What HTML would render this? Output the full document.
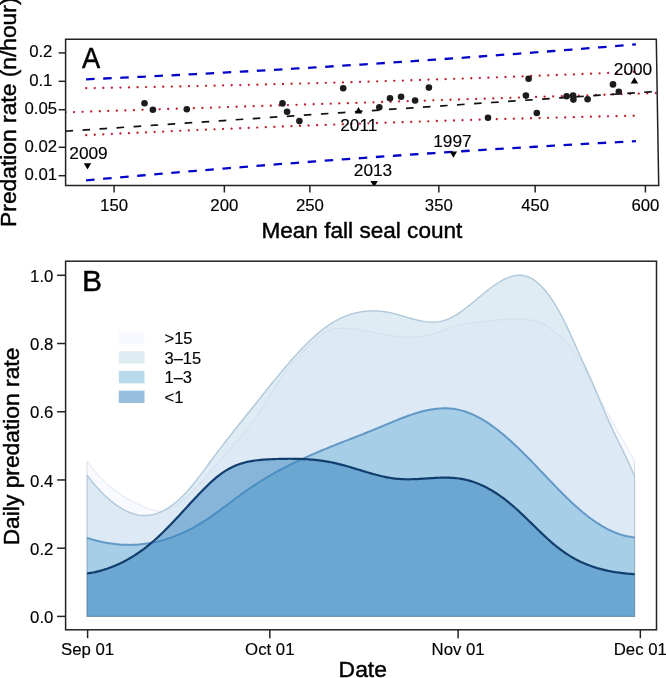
<!DOCTYPE html>
<html><head><meta charset="utf-8"><style>
html,body{margin:0;padding:0;background:#fff;overflow:hidden}
svg{display:block;will-change:transform}
text{font-family:"Liberation Sans", sans-serif;fill:#000;stroke:#000;stroke-width:0.15px} .t{stroke-width:0.45px}
</style></head><body>
<svg width="666" height="678" viewBox="0 0 666 678">
<defs><clipPath id="cpA"><path d="M65.6,39.3 L656.3,39.3 L658.7,185.6 L65.6,185.6 Z"/></clipPath><clipPath id="cpB"><rect x="65.6" y="261.2" width="590.9" height="368.6"/></clipPath></defs>
<g clip-path="url(#cpA)">
<path d="M86.10,79.36 L95.26,78.94 L104.43,78.52 L113.59,78.10 L122.75,77.67 L131.92,77.23 L141.08,76.79 L150.24,76.35 L159.41,75.90 L168.57,75.44 L177.73,74.98 L186.90,74.51 L196.06,74.04 L205.22,73.56 L214.39,73.08 L223.55,72.59 L232.71,72.10 L241.88,71.60 L251.04,71.09 L260.20,70.58 L269.37,70.06 L278.53,69.54 L287.69,69.01 L296.86,68.47 L306.02,67.93 L315.18,67.38 L324.35,66.83 L333.51,66.27 L342.67,65.70 L351.84,65.13 L361.00,64.55 L370.16,63.97 L379.33,63.38 L388.49,62.78 L397.65,62.18 L406.82,61.57 L415.98,60.96 L425.14,60.34 L434.31,59.71 L443.47,59.08 L452.63,58.44 L461.80,57.79 L470.96,57.14 L480.12,56.48 L489.29,55.82 L498.45,55.15 L507.61,54.47 L516.78,53.79 L525.94,53.10 L535.10,52.41 L544.27,51.71 L553.43,51.00 L562.59,50.29 L571.76,49.57 L580.92,48.84 L590.08,48.11 L599.25,47.38 L608.41,46.64 L617.57,45.89 L626.74,45.14 L635.90,44.38" fill="none" stroke="#0505c8" stroke-width="2.3" stroke-dasharray="8.5 8.6"/>
<path d="M86.10,180.33 L95.26,179.50 L104.43,178.69 L113.59,177.88 L122.75,177.07 L131.92,176.27 L141.08,175.48 L150.24,174.69 L159.41,173.90 L168.57,173.12 L177.73,172.35 L186.90,171.58 L196.06,170.82 L205.22,170.06 L214.39,169.31 L223.55,168.56 L232.71,167.82 L241.88,167.09 L251.04,166.36 L260.20,165.63 L269.37,164.92 L278.53,164.21 L287.69,163.50 L296.86,162.80 L306.02,162.11 L315.18,161.42 L324.35,160.74 L333.51,160.06 L342.67,159.39 L351.84,158.73 L361.00,158.07 L370.16,157.42 L379.33,156.77 L388.49,156.14 L397.65,155.50 L406.82,154.88 L415.98,154.26 L425.14,153.64 L434.31,153.03 L443.47,152.43 L452.63,151.84 L461.80,151.25 L470.96,150.66 L480.12,150.09 L489.29,149.51 L498.45,148.95 L507.61,148.39 L516.78,147.84 L525.94,147.29 L535.10,146.75 L544.27,146.22 L553.43,145.69 L562.59,145.16 L571.76,144.65 L580.92,144.14 L590.08,143.63 L599.25,143.13 L608.41,142.64 L617.57,142.15 L626.74,141.66 L635.90,141.19" fill="none" stroke="#0505c8" stroke-width="2.3" stroke-dasharray="8.5 8.6"/>
<path d="M86.20,88.21 L95.36,88.05 L104.51,87.89 L113.66,87.72 L122.82,87.55 L131.97,87.37 L141.13,87.19 L150.28,87.01 L159.44,86.83 L168.59,86.64 L177.75,86.45 L186.90,86.26 L196.06,86.06 L205.22,85.85 L214.37,85.65 L223.52,85.44 L232.68,85.23 L241.83,85.01 L250.99,84.79 L260.14,84.56 L269.30,84.34 L278.45,84.10 L287.61,83.87 L296.76,83.63 L305.92,83.38 L315.07,83.13 L324.23,82.88 L333.38,82.62 L342.54,82.36 L351.69,82.09 L360.85,81.82 L370.00,81.55 L379.16,81.27 L388.31,80.99 L397.47,80.70 L406.62,80.41 L415.78,80.12 L424.93,79.82 L434.09,79.51 L443.24,79.20 L452.40,78.89 L461.55,78.57 L470.71,78.25 L479.86,77.93 L489.02,77.60 L498.17,77.26 L507.33,76.92 L516.49,76.58 L525.64,76.23 L534.79,75.88 L543.95,75.53 L553.11,75.17 L562.26,74.80 L571.41,74.44 L580.57,74.07 L589.72,73.69 L598.88,73.31 L608.03,72.93 L617.19,72.54 L626.35,72.15 L635.50,71.76" fill="none" stroke="#bf1e2e" stroke-width="2.3" stroke-linecap="round" stroke-dasharray="0.01 8.55"/>
<path d="M86.20,135.14 L95.36,134.70 L104.51,134.27 L113.66,133.84 L122.82,133.41 L131.97,132.99 L141.13,132.57 L150.28,132.15 L159.44,131.74 L168.59,131.33 L177.75,130.92 L186.90,130.51 L196.06,130.11 L205.22,129.72 L214.37,129.33 L223.52,128.94 L232.68,128.55 L241.83,128.17 L250.99,127.79 L260.14,127.42 L269.30,127.05 L278.45,126.68 L287.61,126.32 L296.76,125.96 L305.92,125.61 L315.07,125.26 L324.23,124.91 L333.38,124.57 L342.54,124.24 L351.69,123.90 L360.85,123.58 L370.00,123.25 L379.16,122.93 L388.31,122.62 L397.47,122.30 L406.62,122.00 L415.78,121.69 L424.93,121.40 L434.09,121.10 L443.24,120.81 L452.40,120.53 L461.55,120.25 L470.71,119.97 L479.86,119.70 L489.02,119.43 L498.17,119.16 L507.33,118.90 L516.49,118.65 L525.64,118.40 L534.79,118.15 L543.95,117.91 L553.11,117.67 L562.26,117.43 L571.41,117.20 L580.57,116.97 L589.72,116.75 L598.88,116.53 L608.03,116.32 L617.19,116.10 L626.35,115.90 L635.50,115.69" fill="none" stroke="#bf1e2e" stroke-width="2.3" stroke-linecap="round" stroke-dasharray="0.01 8.55"/>
<path d="M65.50,112.35 L75.41,112.03 L85.32,111.70 L95.22,111.38 L105.13,111.06 L115.04,110.73 L124.95,110.41 L134.86,110.09 L144.77,109.76 L154.68,109.44 L164.58,109.11 L174.49,108.79 L184.40,108.47 L194.31,108.14 L204.22,107.82 L214.12,107.50 L224.03,107.17 L233.94,106.85 L243.85,106.52 L253.76,106.20 L263.67,105.88 L273.57,105.55 L283.48,105.23 L293.39,104.90 L303.30,104.58 L313.21,104.26 L323.12,103.93 L333.02,103.61 L342.93,103.29 L352.84,102.96 L362.75,102.64 L372.66,102.31 L382.57,101.99 L392.48,101.67 L402.38,101.34 L412.29,101.02 L422.20,100.70 L432.11,100.37 L442.02,100.05 L451.93,99.72 L461.83,99.40 L471.74,99.08 L481.65,98.75 L491.56,98.43 L501.47,98.10 L511.38,97.78 L521.28,97.46 L531.19,97.13 L541.10,96.81 L551.01,96.49 L560.92,96.16 L570.83,95.84 L580.73,95.51 L590.64,95.19 L600.55,94.87 L610.46,94.54 L620.37,94.22 L630.27,93.90 L640.18,93.57 L650.09,93.25 L660.00,92.92" fill="none" stroke="#bf1e2e" stroke-width="2.3" stroke-linecap="round" stroke-dasharray="0.01 8.55"/>
<path d="M65.50,131.23 L75.41,130.56 L85.32,129.89 L95.22,129.23 L105.13,128.56 L115.04,127.89 L124.95,127.22 L134.86,126.55 L144.77,125.89 L154.68,125.22 L164.58,124.55 L174.49,123.88 L184.40,123.22 L194.31,122.55 L204.22,121.88 L214.12,121.21 L224.03,120.54 L233.94,119.88 L243.85,119.21 L253.76,118.54 L263.67,117.87 L273.57,117.20 L283.48,116.54 L293.39,115.87 L303.30,115.20 L313.21,114.53 L323.12,113.87 L333.02,113.20 L342.93,112.53 L352.84,111.86 L362.75,111.19 L372.66,110.53 L382.57,109.86 L392.48,109.19 L402.38,108.52 L412.29,107.86 L422.20,107.19 L432.11,106.52 L442.02,105.85 L451.93,105.18 L461.83,104.52 L471.74,103.85 L481.65,103.18 L491.56,102.51 L501.47,101.85 L511.38,101.18 L521.28,100.51 L531.19,99.84 L541.10,99.17 L551.01,98.51 L560.92,97.84 L570.83,97.17 L580.73,96.50 L590.64,95.83 L600.55,95.17 L610.46,94.50 L620.37,93.83 L630.27,93.16 L640.18,92.50 L650.09,91.83 L660.00,91.16" fill="none" stroke="#111" stroke-width="1.7" stroke-dasharray="7.6 9.46"/>
<circle cx="144.5" cy="103.3" r="3.3" fill="#1c1c1c"/>
<circle cx="152.9" cy="109.8" r="3.3" fill="#1c1c1c"/>
<circle cx="186.8" cy="109.2" r="3.3" fill="#1c1c1c"/>
<circle cx="282.5" cy="103.4" r="3.3" fill="#1c1c1c"/>
<circle cx="287.1" cy="111.8" r="3.3" fill="#1c1c1c"/>
<circle cx="299.4" cy="121.1" r="3.3" fill="#1c1c1c"/>
<circle cx="343.2" cy="88.3" r="3.3" fill="#1c1c1c"/>
<circle cx="379.3" cy="107.2" r="3.3" fill="#1c1c1c"/>
<circle cx="390" cy="98.2" r="3.3" fill="#1c1c1c"/>
<circle cx="401.1" cy="96.7" r="3.3" fill="#1c1c1c"/>
<circle cx="415.1" cy="100.5" r="3.3" fill="#1c1c1c"/>
<circle cx="428.9" cy="87.6" r="3.3" fill="#1c1c1c"/>
<circle cx="488" cy="117.8" r="3.3" fill="#1c1c1c"/>
<circle cx="528.6" cy="78.8" r="3.3" fill="#1c1c1c"/>
<circle cx="525.9" cy="95.6" r="3.3" fill="#1c1c1c"/>
<circle cx="536.8" cy="113" r="3.3" fill="#1c1c1c"/>
<circle cx="566.6" cy="96.2" r="3.3" fill="#1c1c1c"/>
<circle cx="573.1" cy="95.5" r="3.3" fill="#1c1c1c"/>
<circle cx="573.4" cy="99.6" r="3.3" fill="#1c1c1c"/>
<circle cx="587.6" cy="99.3" r="3.3" fill="#1c1c1c"/>
<circle cx="613" cy="84.4" r="3.3" fill="#1c1c1c"/>
<circle cx="618.8" cy="91.8" r="3.3" fill="#1c1c1c"/>
<path d="M83.80,163.30 L91.20,163.30 L87.50,169.60 Z" fill="#000"/>
<path d="M449.70,151.50 L457.10,151.50 L453.40,157.80 Z" fill="#000"/>
<path d="M370.40,181.00 L377.80,181.00 L374.10,187.30 Z" fill="#000"/>
<path d="M358.50,107.10 L362.20,113.40 L354.80,113.40 Z" fill="#000"/>
<path d="M634.40,77.30 L638.10,83.60 L630.70,83.60 Z" fill="#000"/>
</g>
<text x="88.5" y="159.0" font-size="17.3" text-anchor="middle">2009</text>
<text x="452.4" y="147.4" font-size="17.3" text-anchor="middle">1997</text>
<text x="373.0" y="176.4" font-size="17.3" text-anchor="middle">2013</text>
<text x="358.8" y="130.5" font-size="17.3" text-anchor="middle">2011</text>
<text x="633.0" y="75.0" font-size="17.3" text-anchor="middle">2000</text>
<path d="M65.6,39.3 L656.3,39.3 L658.7,185.6 L65.6,185.6 Z" fill="none" stroke="#222" stroke-width="1.5"/>
<line x1="58.6" y1="52.90" x2="65.6" y2="52.90" stroke="#222" stroke-width="1.5"/>
<text x="40.8" y="57.20" font-size="16.8" text-anchor="middle">0.2</text>
<line x1="58.6" y1="81.31" x2="65.6" y2="81.31" stroke="#222" stroke-width="1.5"/>
<text x="40.8" y="85.61" font-size="16.8" text-anchor="middle">0.1</text>
<line x1="58.6" y1="109.72" x2="65.6" y2="109.72" stroke="#222" stroke-width="1.5"/>
<text x="40.8" y="114.02" font-size="16.8" text-anchor="middle">0.05</text>
<line x1="58.6" y1="147.29" x2="65.6" y2="147.29" stroke="#222" stroke-width="1.5"/>
<text x="40.8" y="151.59" font-size="16.8" text-anchor="middle">0.02</text>
<line x1="58.6" y1="175.70" x2="65.6" y2="175.70" stroke="#222" stroke-width="1.5"/>
<text x="40.8" y="180.00" font-size="16.8" text-anchor="middle">0.01</text>
<line x1="114.10" y1="185.6" x2="114.10" y2="192.5" stroke="#222" stroke-width="1.5"/>
<text x="114.10" y="211.2" font-size="16.8" text-anchor="middle">150</text>
<line x1="224.36" y1="185.6" x2="224.36" y2="192.5" stroke="#222" stroke-width="1.5"/>
<text x="224.36" y="211.2" font-size="16.8" text-anchor="middle">200</text>
<line x1="309.88" y1="185.6" x2="309.88" y2="192.5" stroke="#222" stroke-width="1.5"/>
<text x="309.88" y="211.2" font-size="16.8" text-anchor="middle">250</text>
<line x1="438.84" y1="185.6" x2="438.84" y2="192.5" stroke="#222" stroke-width="1.5"/>
<text x="438.84" y="211.2" font-size="16.8" text-anchor="middle">350</text>
<line x1="535.16" y1="185.6" x2="535.16" y2="192.5" stroke="#222" stroke-width="1.5"/>
<text x="535.16" y="211.2" font-size="16.8" text-anchor="middle">450</text>
<line x1="645.42" y1="185.6" x2="645.42" y2="192.5" stroke="#222" stroke-width="1.5"/>
<text x="645.42" y="211.2" font-size="16.8" text-anchor="middle">600</text>
<text class="t" x="361.9" y="238.1" font-size="22.6" text-anchor="middle">Mean fall seal count</text>
<text class="t" transform="translate(16.3,112.2) rotate(-90)" x="0" y="0" font-size="22.8" text-anchor="middle">Predation rate (n/hour)</text>
<text class="t" transform="translate(91.2,67.5) scale(0.91,1)" x="0" y="0" font-size="30" text-anchor="middle">A</text>
<g clip-path="url(#cpB)">
<path d="M87.00,461.24 L89.00,463.98 L91.00,466.61 L93.00,469.12 L95.00,471.54 L97.00,473.84 L99.00,476.05 L101.00,478.16 L103.00,480.18 L105.00,482.11 L107.00,483.96 L109.00,485.72 L111.00,487.40 L113.00,489.01 L115.00,490.54 L117.00,492.01 L119.00,493.41 L121.00,494.75 L123.00,496.03 L125.00,497.25 L127.00,498.42 L129.00,499.55 L131.00,500.63 L133.00,501.67 L135.00,502.66 L137.00,503.63 L139.00,504.56 L141.00,505.47 L143.00,506.35 L145.00,507.21 L147.00,508.04 L149.00,508.83 L151.00,509.54 L153.00,510.15 L155.00,510.62 L157.00,510.93 L159.00,511.04 L161.00,510.95 L163.00,510.68 L165.00,510.22 L167.00,509.60 L169.00,508.82 L171.00,507.90 L173.00,506.85 L175.00,505.68 L177.00,504.40 L179.00,503.01 L181.00,501.53 L183.00,499.96 L185.00,498.30 L187.00,496.56 L189.00,494.74 L191.00,492.85 L193.00,490.90 L195.00,488.88 L197.00,486.80 L199.00,484.67 L201.00,482.49 L203.00,480.28 L205.00,478.02 L207.00,475.74 L209.00,473.42 L211.00,471.09 L213.00,468.74 L215.00,466.38 L217.00,464.01 L219.00,461.64 L221.00,459.27 L223.00,456.91 L225.00,454.57 L227.00,452.24 L229.00,449.94 L231.00,447.66 L233.00,445.41 L235.00,443.18 L237.00,440.95 L239.00,438.70 L241.00,436.44 L243.00,434.14 L245.00,431.80 L247.00,429.40 L249.00,426.93 L251.00,424.39 L253.00,421.75 L255.00,419.01 L257.00,416.15 L259.00,413.18 L261.00,410.09 L263.00,406.93 L265.00,403.70 L267.00,400.43 L269.00,397.15 L271.00,393.86 L273.00,390.60 L275.00,387.38 L277.00,384.23 L279.00,381.17 L281.00,378.20 L283.00,375.33 L285.00,372.55 L287.00,369.87 L289.00,367.28 L291.00,364.78 L293.00,362.36 L295.00,360.03 L297.00,357.79 L299.00,355.63 L301.00,353.54 L303.00,351.51 L305.00,349.51 L307.00,347.52 L309.00,345.54 L311.00,343.56 L313.00,341.61 L315.00,339.71 L317.00,337.90 L319.00,336.19 L321.00,334.63 L323.00,333.23 L325.00,332.02 L327.00,331.03 L329.00,330.25 L331.00,329.65 L333.00,329.18 L335.00,328.82 L337.00,328.54 L339.00,328.33 L341.00,328.20 L343.00,328.13 L345.00,328.13 L347.00,328.18 L349.00,328.29 L351.00,328.45 L353.00,328.65 L355.00,328.89 L357.00,329.17 L359.00,329.48 L361.00,329.82 L363.00,330.19 L365.00,330.57 L367.00,330.97 L369.00,331.38 L371.00,331.80 L373.00,332.22 L375.00,332.63 L377.00,333.04 L379.00,333.44 L381.00,333.83 L383.00,334.21 L385.00,334.58 L387.00,334.93 L389.00,335.26 L391.00,335.56 L393.00,335.85 L395.00,336.11 L397.00,336.35 L399.00,336.56 L401.00,336.73 L403.00,336.88 L405.00,336.99 L407.00,337.06 L409.00,337.10 L411.00,337.10 L413.00,337.05 L415.00,336.96 L417.00,336.82 L419.00,336.64 L421.00,336.40 L423.00,336.12 L425.00,335.77 L427.00,335.38 L429.00,334.92 L431.00,334.41 L433.00,333.83 L435.00,333.21 L437.00,332.55 L439.00,331.86 L441.00,331.15 L443.00,330.42 L445.00,329.69 L447.00,328.96 L449.00,328.24 L451.00,327.54 L453.00,326.87 L455.00,326.24 L457.00,325.66 L459.00,325.13 L461.00,324.66 L463.00,324.26 L465.00,323.91 L467.00,323.60 L469.00,323.32 L471.00,323.07 L473.00,322.84 L475.00,322.61 L477.00,322.37 L479.00,322.13 L481.00,321.89 L483.00,321.65 L485.00,321.42 L487.00,321.18 L489.00,320.95 L491.00,320.72 L493.00,320.51 L495.00,320.30 L497.00,320.10 L499.00,319.91 L501.00,319.74 L503.00,319.59 L505.00,319.45 L507.00,319.33 L509.00,319.23 L511.00,319.15 L513.00,319.10 L515.00,319.07 L517.00,319.06 L519.00,319.09 L521.00,319.15 L523.00,319.23 L525.00,319.35 L527.00,319.51 L529.00,319.71 L531.00,319.98 L533.00,320.32 L535.00,320.75 L537.00,321.29 L539.00,321.94 L541.00,322.72 L543.00,323.64 L545.00,324.72 L547.00,325.96 L549.00,327.33 L551.00,328.80 L553.00,330.36 L555.00,331.99 L557.00,333.67 L559.00,335.43 L561.00,337.27 L563.00,339.20 L565.00,341.25 L567.00,343.41 L569.00,345.70 L571.00,348.13 L573.00,350.71 L575.00,353.45 L577.00,356.37 L579.00,359.47 L581.00,362.77 L583.00,366.24 L585.00,369.87 L587.00,373.62 L589.00,377.48 L591.00,381.40 L593.00,385.38 L595.00,389.37 L597.00,393.36 L599.00,397.31 L601.00,401.21 L603.00,405.02 L605.00,408.74 L607.00,412.38 L609.00,415.95 L611.00,419.47 L613.00,422.95 L615.00,426.41 L617.00,429.85 L619.00,433.28 L621.00,436.73 L623.00,440.21 L625.00,443.73 L627.00,447.31 L629.00,450.96 L631.00,454.71 L633.00,458.57 L634.60,461.75 L634.6,616.4 L87.0,616.4 Z" fill="rgba(239,243,255,0.38)" stroke="none"/>
<path d="M87.0,461.24 L87.0,616.4 L634.6,616.4 L634.6,461.75" fill="none" stroke="rgba(70,90,110,0.18)" stroke-width="1.1"/>
<path d="M87.00,461.24 L89.00,463.98 L91.00,466.61 L93.00,469.12 L95.00,471.54 L97.00,473.84 L99.00,476.05 L101.00,478.16 L103.00,480.18 L105.00,482.11 L107.00,483.96 L109.00,485.72 L111.00,487.40 L113.00,489.01 L115.00,490.54 L117.00,492.01 L119.00,493.41 L121.00,494.75 L123.00,496.03 L125.00,497.25 L127.00,498.42 L129.00,499.55 L131.00,500.63 L133.00,501.67 L135.00,502.66 L137.00,503.63 L139.00,504.56 L141.00,505.47 L143.00,506.35 L145.00,507.21 L147.00,508.04 L149.00,508.83 L151.00,509.54 L153.00,510.15 L155.00,510.62 L157.00,510.93 L159.00,511.04 L161.00,510.95 L163.00,510.68 L165.00,510.22 L167.00,509.60 L169.00,508.82 L171.00,507.90 L173.00,506.85 L175.00,505.68 L177.00,504.40 L179.00,503.01 L181.00,501.53 L183.00,499.96 L185.00,498.30 L187.00,496.56 L189.00,494.74 L191.00,492.85 L193.00,490.90 L195.00,488.88 L197.00,486.80 L199.00,484.67 L201.00,482.49 L203.00,480.28 L205.00,478.02 L207.00,475.74 L209.00,473.42 L211.00,471.09 L213.00,468.74 L215.00,466.38 L217.00,464.01 L219.00,461.64 L221.00,459.27 L223.00,456.91 L225.00,454.57 L227.00,452.24 L229.00,449.94 L231.00,447.66 L233.00,445.41 L235.00,443.18 L237.00,440.95 L239.00,438.70 L241.00,436.44 L243.00,434.14 L245.00,431.80 L247.00,429.40 L249.00,426.93 L251.00,424.39 L253.00,421.75 L255.00,419.01 L257.00,416.15 L259.00,413.18 L261.00,410.09 L263.00,406.93 L265.00,403.70 L267.00,400.43 L269.00,397.15 L271.00,393.86 L273.00,390.60 L275.00,387.38 L277.00,384.23 L279.00,381.17 L281.00,378.20 L283.00,375.33 L285.00,372.55 L287.00,369.87 L289.00,367.28 L291.00,364.78 L293.00,362.36 L295.00,360.03 L297.00,357.79 L299.00,355.63 L301.00,353.54 L303.00,351.51 L305.00,349.51 L307.00,347.52 L309.00,345.54 L311.00,343.56 L313.00,341.61 L315.00,339.71 L317.00,337.90 L319.00,336.19 L321.00,334.63 L323.00,333.23 L325.00,332.02 L327.00,331.03 L329.00,330.25 L331.00,329.65 L333.00,329.18 L335.00,328.82 L337.00,328.54 L339.00,328.33 L341.00,328.20 L343.00,328.13 L345.00,328.13 L347.00,328.18 L349.00,328.29 L351.00,328.45 L353.00,328.65 L355.00,328.89 L357.00,329.17 L359.00,329.48 L361.00,329.82 L363.00,330.19 L365.00,330.57 L367.00,330.97 L369.00,331.38 L371.00,331.80 L373.00,332.22 L375.00,332.63 L377.00,333.04 L379.00,333.44 L381.00,333.83 L383.00,334.21 L385.00,334.58 L387.00,334.93 L389.00,335.26 L391.00,335.56 L393.00,335.85 L395.00,336.11 L397.00,336.35 L399.00,336.56 L401.00,336.73 L403.00,336.88 L405.00,336.99 L407.00,337.06 L409.00,337.10 L411.00,337.10 L413.00,337.05 L415.00,336.96 L417.00,336.82 L419.00,336.64 L421.00,336.40 L423.00,336.12 L425.00,335.77 L427.00,335.38 L429.00,334.92 L431.00,334.41 L433.00,333.83 L435.00,333.21 L437.00,332.55 L439.00,331.86 L441.00,331.15 L443.00,330.42 L445.00,329.69 L447.00,328.96 L449.00,328.24 L451.00,327.54 L453.00,326.87 L455.00,326.24 L457.00,325.66 L459.00,325.13 L461.00,324.66 L463.00,324.26 L465.00,323.91 L467.00,323.60 L469.00,323.32 L471.00,323.07 L473.00,322.84 L475.00,322.61 L477.00,322.37 L479.00,322.13 L481.00,321.89 L483.00,321.65 L485.00,321.42 L487.00,321.18 L489.00,320.95 L491.00,320.72 L493.00,320.51 L495.00,320.30 L497.00,320.10 L499.00,319.91 L501.00,319.74 L503.00,319.59 L505.00,319.45 L507.00,319.33 L509.00,319.23 L511.00,319.15 L513.00,319.10 L515.00,319.07 L517.00,319.06 L519.00,319.09 L521.00,319.15 L523.00,319.23 L525.00,319.35 L527.00,319.51 L529.00,319.71 L531.00,319.98 L533.00,320.32 L535.00,320.75 L537.00,321.29 L539.00,321.94 L541.00,322.72 L543.00,323.64 L545.00,324.72 L547.00,325.96 L549.00,327.33 L551.00,328.80 L553.00,330.36 L555.00,331.99 L557.00,333.67 L559.00,335.43 L561.00,337.27 L563.00,339.20 L565.00,341.25 L567.00,343.41 L569.00,345.70 L571.00,348.13 L573.00,350.71 L575.00,353.45 L577.00,356.37 L579.00,359.47 L581.00,362.77 L583.00,366.24 L585.00,369.87 L587.00,373.62 L589.00,377.48 L591.00,381.40 L593.00,385.38 L595.00,389.37 L597.00,393.36 L599.00,397.31 L601.00,401.21 L603.00,405.02 L605.00,408.74 L607.00,412.38 L609.00,415.95 L611.00,419.47 L613.00,422.95 L615.00,426.41 L617.00,429.85 L619.00,433.28 L621.00,436.73 L623.00,440.21 L625.00,443.73 L627.00,447.31 L629.00,450.96 L631.00,454.71 L633.00,458.57 L634.60,461.75" fill="none" stroke="#e6eaf2" stroke-width="1.1" stroke-linejoin="round"/>
<path d="M87.00,475.25 L89.00,477.82 L91.00,480.31 L93.00,482.73 L95.00,485.08 L97.00,487.35 L99.00,489.54 L101.00,491.65 L103.00,493.69 L105.00,495.64 L107.00,497.51 L109.00,499.30 L111.00,501.00 L113.00,502.62 L115.00,504.15 L117.00,505.58 L119.00,506.93 L121.00,508.18 L123.00,509.35 L125.00,510.41 L127.00,511.38 L129.00,512.25 L131.00,513.03 L133.00,513.70 L135.00,514.27 L137.00,514.74 L139.00,515.10 L141.00,515.36 L143.00,515.51 L145.00,515.55 L147.00,515.48 L149.00,515.30 L151.00,515.00 L153.00,514.60 L155.00,514.08 L157.00,513.45 L159.00,512.71 L161.00,511.86 L163.00,510.90 L165.00,509.84 L167.00,508.67 L169.00,507.40 L171.00,506.03 L173.00,504.56 L175.00,502.99 L177.00,501.32 L179.00,499.55 L181.00,497.68 L183.00,495.73 L185.00,493.67 L187.00,491.53 L189.00,489.29 L191.00,486.97 L193.00,484.56 L195.00,482.08 L197.00,479.54 L199.00,476.94 L201.00,474.30 L203.00,471.62 L205.00,468.92 L207.00,466.20 L209.00,463.47 L211.00,460.75 L213.00,458.04 L215.00,455.35 L217.00,452.69 L219.00,450.05 L221.00,447.42 L223.00,444.82 L225.00,442.23 L227.00,439.66 L229.00,437.11 L231.00,434.57 L233.00,432.03 L235.00,429.51 L237.00,427.00 L239.00,424.50 L241.00,422.00 L243.00,419.50 L245.00,417.01 L247.00,414.52 L249.00,412.03 L251.00,409.54 L253.00,407.04 L255.00,404.54 L257.00,402.04 L259.00,399.53 L261.00,397.02 L263.00,394.52 L265.00,392.01 L267.00,389.51 L269.00,387.01 L271.00,384.52 L273.00,382.05 L275.00,379.58 L277.00,377.13 L279.00,374.70 L281.00,372.28 L283.00,369.89 L285.00,367.51 L287.00,365.17 L289.00,362.84 L291.00,360.55 L293.00,358.28 L295.00,356.05 L297.00,353.86 L299.00,351.69 L301.00,349.57 L303.00,347.49 L305.00,345.45 L307.00,343.45 L309.00,341.50 L311.00,339.60 L313.00,337.75 L315.00,335.95 L317.00,334.21 L319.00,332.52 L321.00,330.89 L323.00,329.32 L325.00,327.81 L327.00,326.36 L329.00,324.99 L331.00,323.68 L333.00,322.44 L335.00,321.26 L337.00,320.16 L339.00,319.12 L341.00,318.15 L343.00,317.24 L345.00,316.40 L347.00,315.62 L349.00,314.90 L351.00,314.24 L353.00,313.65 L355.00,313.11 L357.00,312.64 L359.00,312.22 L361.00,311.86 L363.00,311.56 L365.00,311.32 L367.00,311.13 L369.00,311.00 L371.00,310.92 L373.00,310.89 L375.00,310.92 L377.00,311.00 L379.00,311.13 L381.00,311.30 L383.00,311.53 L385.00,311.81 L387.00,312.14 L389.00,312.51 L391.00,312.93 L393.00,313.39 L395.00,313.89 L397.00,314.42 L399.00,314.98 L401.00,315.55 L403.00,316.14 L405.00,316.73 L407.00,317.32 L409.00,317.90 L411.00,318.47 L413.00,319.03 L415.00,319.56 L417.00,320.05 L419.00,320.51 L421.00,320.93 L423.00,321.29 L425.00,321.60 L427.00,321.85 L429.00,322.03 L431.00,322.13 L433.00,322.15 L435.00,322.09 L437.00,321.93 L439.00,321.67 L441.00,321.31 L443.00,320.84 L445.00,320.24 L447.00,319.53 L449.00,318.70 L451.00,317.75 L453.00,316.71 L455.00,315.57 L457.00,314.35 L459.00,313.05 L461.00,311.68 L463.00,310.24 L465.00,308.75 L467.00,307.21 L469.00,305.63 L471.00,304.02 L473.00,302.38 L475.00,300.72 L477.00,299.06 L479.00,297.39 L481.00,295.73 L483.00,294.07 L485.00,292.45 L487.00,290.84 L489.00,289.28 L491.00,287.76 L493.00,286.29 L495.00,284.87 L497.00,283.53 L499.00,282.25 L501.00,281.06 L503.00,279.96 L505.00,278.96 L507.00,278.06 L509.00,277.27 L511.00,276.60 L513.00,276.06 L515.00,275.66 L517.00,275.39 L519.00,275.28 L521.00,275.32 L523.00,275.53 L525.00,275.92 L527.00,276.48 L529.00,277.23 L531.00,278.18 L533.00,279.33 L535.00,280.67 L537.00,282.21 L539.00,283.94 L541.00,285.86 L543.00,287.96 L545.00,290.25 L547.00,292.72 L549.00,295.37 L551.00,298.20 L553.00,301.20 L555.00,304.37 L557.00,307.72 L559.00,311.23 L561.00,314.91 L563.00,318.75 L565.00,322.75 L567.00,326.89 L569.00,331.14 L571.00,335.49 L573.00,339.90 L575.00,344.34 L577.00,348.81 L579.00,353.26 L581.00,357.68 L583.00,362.03 L585.00,366.33 L587.00,370.61 L589.00,374.94 L591.00,379.36 L593.00,383.92 L595.00,388.64 L597.00,393.46 L599.00,398.33 L601.00,403.20 L603.00,408.03 L605.00,412.74 L607.00,417.32 L609.00,421.77 L611.00,426.10 L613.00,430.34 L615.00,434.51 L617.00,438.62 L619.00,442.70 L621.00,446.77 L623.00,450.86 L625.00,455.00 L627.00,459.22 L629.00,463.55 L631.00,468.01 L633.00,472.65 L634.60,476.50 L634.6,616.4 L87.0,616.4 Z" fill="rgba(189,215,231,0.47)" stroke="none"/>
<path d="M87.0,475.25 L87.0,616.4 L634.6,616.4 L634.6,476.50" fill="none" stroke="rgba(70,90,110,0.18)" stroke-width="1.1"/>
<path d="M87.00,475.25 L89.00,477.82 L91.00,480.31 L93.00,482.73 L95.00,485.08 L97.00,487.35 L99.00,489.54 L101.00,491.65 L103.00,493.69 L105.00,495.64 L107.00,497.51 L109.00,499.30 L111.00,501.00 L113.00,502.62 L115.00,504.15 L117.00,505.58 L119.00,506.93 L121.00,508.18 L123.00,509.35 L125.00,510.41 L127.00,511.38 L129.00,512.25 L131.00,513.03 L133.00,513.70 L135.00,514.27 L137.00,514.74 L139.00,515.10 L141.00,515.36 L143.00,515.51 L145.00,515.55 L147.00,515.48 L149.00,515.30 L151.00,515.00 L153.00,514.60 L155.00,514.08 L157.00,513.45 L159.00,512.71 L161.00,511.86 L163.00,510.90 L165.00,509.84 L167.00,508.67 L169.00,507.40 L171.00,506.03 L173.00,504.56 L175.00,502.99 L177.00,501.32 L179.00,499.55 L181.00,497.68 L183.00,495.73 L185.00,493.67 L187.00,491.53 L189.00,489.29 L191.00,486.97 L193.00,484.56 L195.00,482.08 L197.00,479.54 L199.00,476.94 L201.00,474.30 L203.00,471.62 L205.00,468.92 L207.00,466.20 L209.00,463.47 L211.00,460.75 L213.00,458.04 L215.00,455.35 L217.00,452.69 L219.00,450.05 L221.00,447.42 L223.00,444.82 L225.00,442.23 L227.00,439.66 L229.00,437.11 L231.00,434.57 L233.00,432.03 L235.00,429.51 L237.00,427.00 L239.00,424.50 L241.00,422.00 L243.00,419.50 L245.00,417.01 L247.00,414.52 L249.00,412.03 L251.00,409.54 L253.00,407.04 L255.00,404.54 L257.00,402.04 L259.00,399.53 L261.00,397.02 L263.00,394.52 L265.00,392.01 L267.00,389.51 L269.00,387.01 L271.00,384.52 L273.00,382.05 L275.00,379.58 L277.00,377.13 L279.00,374.70 L281.00,372.28 L283.00,369.89 L285.00,367.51 L287.00,365.17 L289.00,362.84 L291.00,360.55 L293.00,358.28 L295.00,356.05 L297.00,353.86 L299.00,351.69 L301.00,349.57 L303.00,347.49 L305.00,345.45 L307.00,343.45 L309.00,341.50 L311.00,339.60 L313.00,337.75 L315.00,335.95 L317.00,334.21 L319.00,332.52 L321.00,330.89 L323.00,329.32 L325.00,327.81 L327.00,326.36 L329.00,324.99 L331.00,323.68 L333.00,322.44 L335.00,321.26 L337.00,320.16 L339.00,319.12 L341.00,318.15 L343.00,317.24 L345.00,316.40 L347.00,315.62 L349.00,314.90 L351.00,314.24 L353.00,313.65 L355.00,313.11 L357.00,312.64 L359.00,312.22 L361.00,311.86 L363.00,311.56 L365.00,311.32 L367.00,311.13 L369.00,311.00 L371.00,310.92 L373.00,310.89 L375.00,310.92 L377.00,311.00 L379.00,311.13 L381.00,311.30 L383.00,311.53 L385.00,311.81 L387.00,312.14 L389.00,312.51 L391.00,312.93 L393.00,313.39 L395.00,313.89 L397.00,314.42 L399.00,314.98 L401.00,315.55 L403.00,316.14 L405.00,316.73 L407.00,317.32 L409.00,317.90 L411.00,318.47 L413.00,319.03 L415.00,319.56 L417.00,320.05 L419.00,320.51 L421.00,320.93 L423.00,321.29 L425.00,321.60 L427.00,321.85 L429.00,322.03 L431.00,322.13 L433.00,322.15 L435.00,322.09 L437.00,321.93 L439.00,321.67 L441.00,321.31 L443.00,320.84 L445.00,320.24 L447.00,319.53 L449.00,318.70 L451.00,317.75 L453.00,316.71 L455.00,315.57 L457.00,314.35 L459.00,313.05 L461.00,311.68 L463.00,310.24 L465.00,308.75 L467.00,307.21 L469.00,305.63 L471.00,304.02 L473.00,302.38 L475.00,300.72 L477.00,299.06 L479.00,297.39 L481.00,295.73 L483.00,294.07 L485.00,292.45 L487.00,290.84 L489.00,289.28 L491.00,287.76 L493.00,286.29 L495.00,284.87 L497.00,283.53 L499.00,282.25 L501.00,281.06 L503.00,279.96 L505.00,278.96 L507.00,278.06 L509.00,277.27 L511.00,276.60 L513.00,276.06 L515.00,275.66 L517.00,275.39 L519.00,275.28 L521.00,275.32 L523.00,275.53 L525.00,275.92 L527.00,276.48 L529.00,277.23 L531.00,278.18 L533.00,279.33 L535.00,280.67 L537.00,282.21 L539.00,283.94 L541.00,285.86 L543.00,287.96 L545.00,290.25 L547.00,292.72 L549.00,295.37 L551.00,298.20 L553.00,301.20 L555.00,304.37 L557.00,307.72 L559.00,311.23 L561.00,314.91 L563.00,318.75 L565.00,322.75 L567.00,326.89 L569.00,331.14 L571.00,335.49 L573.00,339.90 L575.00,344.34 L577.00,348.81 L579.00,353.26 L581.00,357.68 L583.00,362.03 L585.00,366.33 L587.00,370.61 L589.00,374.94 L591.00,379.36 L593.00,383.92 L595.00,388.64 L597.00,393.46 L599.00,398.33 L601.00,403.20 L603.00,408.03 L605.00,412.74 L607.00,417.32 L609.00,421.77 L611.00,426.10 L613.00,430.34 L615.00,434.51 L617.00,438.62 L619.00,442.70 L621.00,446.77 L623.00,450.86 L625.00,455.00 L627.00,459.22 L629.00,463.55 L631.00,468.01 L633.00,472.65 L634.60,476.50" fill="none" stroke="#b0c8da" stroke-width="1.4" stroke-linejoin="round"/>
<path d="M87.00,537.83 L89.00,538.48 L91.00,539.10 L93.00,539.69 L95.00,540.24 L97.00,540.77 L99.00,541.26 L101.00,541.73 L103.00,542.16 L105.00,542.56 L107.00,542.93 L109.00,543.27 L111.00,543.57 L113.00,543.85 L115.00,544.09 L117.00,544.30 L119.00,544.48 L121.00,544.63 L123.00,544.74 L125.00,544.82 L127.00,544.87 L129.00,544.89 L131.00,544.87 L133.00,544.83 L135.00,544.75 L137.00,544.63 L139.00,544.49 L141.00,544.31 L143.00,544.09 L145.00,543.85 L147.00,543.57 L149.00,543.26 L151.00,542.91 L153.00,542.53 L155.00,542.12 L157.00,541.67 L159.00,541.19 L161.00,540.68 L163.00,540.13 L165.00,539.55 L167.00,538.93 L169.00,538.28 L171.00,537.60 L173.00,536.88 L175.00,536.12 L177.00,535.34 L179.00,534.51 L181.00,533.65 L183.00,532.76 L185.00,531.83 L187.00,530.87 L189.00,529.87 L191.00,528.84 L193.00,527.77 L195.00,526.67 L197.00,525.53 L199.00,524.36 L201.00,523.14 L203.00,521.90 L205.00,520.62 L207.00,519.30 L209.00,517.96 L211.00,516.58 L213.00,515.19 L215.00,513.77 L217.00,512.33 L219.00,510.87 L221.00,509.40 L223.00,507.92 L225.00,506.43 L227.00,504.93 L229.00,503.43 L231.00,501.93 L233.00,500.43 L235.00,498.94 L237.00,497.45 L239.00,495.98 L241.00,494.52 L243.00,493.07 L245.00,491.64 L247.00,490.24 L249.00,488.85 L251.00,487.49 L253.00,486.15 L255.00,484.83 L257.00,483.53 L259.00,482.25 L261.00,480.99 L263.00,479.76 L265.00,478.54 L267.00,477.34 L269.00,476.16 L271.00,475.00 L273.00,473.86 L275.00,472.73 L277.00,471.62 L279.00,470.53 L281.00,469.46 L283.00,468.40 L285.00,467.36 L287.00,466.33 L289.00,465.32 L291.00,464.32 L293.00,463.34 L295.00,462.37 L297.00,461.41 L299.00,460.47 L301.00,459.53 L303.00,458.61 L305.00,457.70 L307.00,456.81 L309.00,455.92 L311.00,455.04 L313.00,454.17 L315.00,453.31 L317.00,452.46 L319.00,451.62 L321.00,450.78 L323.00,449.95 L325.00,449.13 L327.00,448.31 L329.00,447.50 L331.00,446.69 L333.00,445.89 L335.00,445.09 L337.00,444.29 L339.00,443.50 L341.00,442.71 L343.00,441.93 L345.00,441.14 L347.00,440.36 L349.00,439.57 L351.00,438.79 L353.00,438.01 L355.00,437.22 L357.00,436.44 L359.00,435.65 L361.00,434.86 L363.00,434.07 L365.00,433.28 L367.00,432.48 L369.00,431.68 L371.00,430.87 L373.00,430.06 L375.00,429.24 L377.00,428.42 L379.00,427.59 L381.00,426.75 L383.00,425.91 L385.00,425.07 L387.00,424.23 L389.00,423.39 L391.00,422.56 L393.00,421.73 L395.00,420.90 L397.00,420.09 L399.00,419.29 L401.00,418.50 L403.00,417.73 L405.00,416.97 L407.00,416.23 L409.00,415.52 L411.00,414.82 L413.00,414.15 L415.00,413.51 L417.00,412.90 L419.00,412.31 L421.00,411.76 L423.00,411.24 L425.00,410.76 L427.00,410.31 L429.00,409.91 L431.00,409.55 L433.00,409.23 L435.00,408.95 L437.00,408.72 L439.00,408.55 L441.00,408.42 L443.00,408.34 L445.00,408.32 L447.00,408.36 L449.00,408.46 L451.00,408.61 L453.00,408.83 L455.00,409.11 L457.00,409.46 L459.00,409.88 L461.00,410.36 L463.00,410.91 L465.00,411.53 L467.00,412.21 L469.00,412.96 L471.00,413.76 L473.00,414.63 L475.00,415.56 L477.00,416.55 L479.00,417.60 L481.00,418.70 L483.00,419.87 L485.00,421.08 L487.00,422.36 L489.00,423.68 L491.00,425.06 L493.00,426.49 L495.00,427.97 L497.00,429.49 L499.00,431.06 L501.00,432.67 L503.00,434.32 L505.00,436.01 L507.00,437.74 L509.00,439.51 L511.00,441.31 L513.00,443.14 L515.00,445.00 L517.00,446.89 L519.00,448.81 L521.00,450.75 L523.00,452.72 L525.00,454.71 L527.00,456.72 L529.00,458.74 L531.00,460.79 L533.00,462.84 L535.00,464.91 L537.00,467.00 L539.00,469.09 L541.00,471.18 L543.00,473.28 L545.00,475.39 L547.00,477.49 L549.00,479.59 L551.00,481.68 L553.00,483.76 L555.00,485.84 L557.00,487.90 L559.00,489.95 L561.00,491.98 L563.00,493.99 L565.00,495.97 L567.00,497.93 L569.00,499.87 L571.00,501.78 L573.00,503.65 L575.00,505.49 L577.00,507.30 L579.00,509.06 L581.00,510.78 L583.00,512.46 L585.00,514.10 L587.00,515.69 L589.00,517.22 L591.00,518.71 L593.00,520.16 L595.00,521.54 L597.00,522.88 L599.00,524.17 L601.00,525.40 L603.00,526.58 L605.00,527.70 L607.00,528.77 L609.00,529.78 L611.00,530.73 L613.00,531.63 L615.00,532.46 L617.00,533.24 L619.00,533.95 L621.00,534.60 L623.00,535.19 L625.00,535.71 L627.00,536.18 L629.00,536.57 L631.00,536.90 L633.00,537.16 L634.60,537.32 L634.6,616.4 L87.0,616.4 Z" fill="rgba(107,174,214,0.47)" stroke="none"/>
<path d="M87.0,537.83 L87.0,616.4 L634.6,616.4 L634.6,537.32" fill="none" stroke="rgba(70,90,110,0.18)" stroke-width="1.1"/>
<path d="M87.00,537.83 L89.00,538.48 L91.00,539.10 L93.00,539.69 L95.00,540.24 L97.00,540.77 L99.00,541.26 L101.00,541.73 L103.00,542.16 L105.00,542.56 L107.00,542.93 L109.00,543.27 L111.00,543.57 L113.00,543.85 L115.00,544.09 L117.00,544.30 L119.00,544.48 L121.00,544.63 L123.00,544.74 L125.00,544.82 L127.00,544.87 L129.00,544.89 L131.00,544.87 L133.00,544.83 L135.00,544.75 L137.00,544.63 L139.00,544.49 L141.00,544.31 L143.00,544.09 L145.00,543.85 L147.00,543.57 L149.00,543.26 L151.00,542.91 L153.00,542.53 L155.00,542.12 L157.00,541.67 L159.00,541.19 L161.00,540.68 L163.00,540.13 L165.00,539.55 L167.00,538.93 L169.00,538.28 L171.00,537.60 L173.00,536.88 L175.00,536.12 L177.00,535.34 L179.00,534.51 L181.00,533.65 L183.00,532.76 L185.00,531.83 L187.00,530.87 L189.00,529.87 L191.00,528.84 L193.00,527.77 L195.00,526.67 L197.00,525.53 L199.00,524.36 L201.00,523.14 L203.00,521.90 L205.00,520.62 L207.00,519.30 L209.00,517.96 L211.00,516.58 L213.00,515.19 L215.00,513.77 L217.00,512.33 L219.00,510.87 L221.00,509.40 L223.00,507.92 L225.00,506.43 L227.00,504.93 L229.00,503.43 L231.00,501.93 L233.00,500.43 L235.00,498.94 L237.00,497.45 L239.00,495.98 L241.00,494.52 L243.00,493.07 L245.00,491.64 L247.00,490.24 L249.00,488.85 L251.00,487.49 L253.00,486.15 L255.00,484.83 L257.00,483.53 L259.00,482.25 L261.00,480.99 L263.00,479.76 L265.00,478.54 L267.00,477.34 L269.00,476.16 L271.00,475.00 L273.00,473.86 L275.00,472.73 L277.00,471.62 L279.00,470.53 L281.00,469.46 L283.00,468.40 L285.00,467.36 L287.00,466.33 L289.00,465.32 L291.00,464.32 L293.00,463.34 L295.00,462.37 L297.00,461.41 L299.00,460.47 L301.00,459.53 L303.00,458.61 L305.00,457.70 L307.00,456.81 L309.00,455.92 L311.00,455.04 L313.00,454.17 L315.00,453.31 L317.00,452.46 L319.00,451.62 L321.00,450.78 L323.00,449.95 L325.00,449.13 L327.00,448.31 L329.00,447.50 L331.00,446.69 L333.00,445.89 L335.00,445.09 L337.00,444.29 L339.00,443.50 L341.00,442.71 L343.00,441.93 L345.00,441.14 L347.00,440.36 L349.00,439.57 L351.00,438.79 L353.00,438.01 L355.00,437.22 L357.00,436.44 L359.00,435.65 L361.00,434.86 L363.00,434.07 L365.00,433.28 L367.00,432.48 L369.00,431.68 L371.00,430.87 L373.00,430.06 L375.00,429.24 L377.00,428.42 L379.00,427.59 L381.00,426.75 L383.00,425.91 L385.00,425.07 L387.00,424.23 L389.00,423.39 L391.00,422.56 L393.00,421.73 L395.00,420.90 L397.00,420.09 L399.00,419.29 L401.00,418.50 L403.00,417.73 L405.00,416.97 L407.00,416.23 L409.00,415.52 L411.00,414.82 L413.00,414.15 L415.00,413.51 L417.00,412.90 L419.00,412.31 L421.00,411.76 L423.00,411.24 L425.00,410.76 L427.00,410.31 L429.00,409.91 L431.00,409.55 L433.00,409.23 L435.00,408.95 L437.00,408.72 L439.00,408.55 L441.00,408.42 L443.00,408.34 L445.00,408.32 L447.00,408.36 L449.00,408.46 L451.00,408.61 L453.00,408.83 L455.00,409.11 L457.00,409.46 L459.00,409.88 L461.00,410.36 L463.00,410.91 L465.00,411.53 L467.00,412.21 L469.00,412.96 L471.00,413.76 L473.00,414.63 L475.00,415.56 L477.00,416.55 L479.00,417.60 L481.00,418.70 L483.00,419.87 L485.00,421.08 L487.00,422.36 L489.00,423.68 L491.00,425.06 L493.00,426.49 L495.00,427.97 L497.00,429.49 L499.00,431.06 L501.00,432.67 L503.00,434.32 L505.00,436.01 L507.00,437.74 L509.00,439.51 L511.00,441.31 L513.00,443.14 L515.00,445.00 L517.00,446.89 L519.00,448.81 L521.00,450.75 L523.00,452.72 L525.00,454.71 L527.00,456.72 L529.00,458.74 L531.00,460.79 L533.00,462.84 L535.00,464.91 L537.00,467.00 L539.00,469.09 L541.00,471.18 L543.00,473.28 L545.00,475.39 L547.00,477.49 L549.00,479.59 L551.00,481.68 L553.00,483.76 L555.00,485.84 L557.00,487.90 L559.00,489.95 L561.00,491.98 L563.00,493.99 L565.00,495.97 L567.00,497.93 L569.00,499.87 L571.00,501.78 L573.00,503.65 L575.00,505.49 L577.00,507.30 L579.00,509.06 L581.00,510.78 L583.00,512.46 L585.00,514.10 L587.00,515.69 L589.00,517.22 L591.00,518.71 L593.00,520.16 L595.00,521.54 L597.00,522.88 L599.00,524.17 L601.00,525.40 L603.00,526.58 L605.00,527.70 L607.00,528.77 L609.00,529.78 L611.00,530.73 L613.00,531.63 L615.00,532.46 L617.00,533.24 L619.00,533.95 L621.00,534.60 L623.00,535.19 L625.00,535.71 L627.00,536.18 L629.00,536.57 L631.00,536.90 L633.00,537.16 L634.60,537.32" fill="none" stroke="#6299c6" stroke-width="2.0" stroke-linejoin="round"/>
<path d="M87.00,573.50 L89.00,573.20 L91.00,572.86 L93.00,572.48 L95.00,572.07 L97.00,571.61 L99.00,571.12 L101.00,570.58 L103.00,570.01 L105.00,569.39 L107.00,568.74 L109.00,568.04 L111.00,567.31 L113.00,566.53 L115.00,565.71 L117.00,564.84 L119.00,563.94 L121.00,562.99 L123.00,561.99 L125.00,560.95 L127.00,559.87 L129.00,558.74 L131.00,557.57 L133.00,556.34 L135.00,555.08 L137.00,553.76 L139.00,552.40 L141.00,550.99 L143.00,549.54 L145.00,548.03 L147.00,546.48 L149.00,544.87 L151.00,543.22 L153.00,541.52 L155.00,539.76 L157.00,537.96 L159.00,536.11 L161.00,534.21 L163.00,532.27 L165.00,530.29 L167.00,528.27 L169.00,526.22 L171.00,524.15 L173.00,522.05 L175.00,519.93 L177.00,517.79 L179.00,515.64 L181.00,513.47 L183.00,511.30 L185.00,509.12 L187.00,506.95 L189.00,504.78 L191.00,502.61 L193.00,500.45 L195.00,498.31 L197.00,496.18 L199.00,494.08 L201.00,492.00 L203.00,489.95 L205.00,487.93 L207.00,485.96 L209.00,484.04 L211.00,482.17 L213.00,480.36 L215.00,478.62 L217.00,476.95 L219.00,475.35 L221.00,473.84 L223.00,472.42 L225.00,471.09 L227.00,469.86 L229.00,468.72 L231.00,467.66 L233.00,466.69 L235.00,465.81 L237.00,464.99 L239.00,464.25 L241.00,463.58 L243.00,462.98 L245.00,462.44 L247.00,461.95 L249.00,461.52 L251.00,461.14 L253.00,460.81 L255.00,460.51 L257.00,460.26 L259.00,460.04 L261.00,459.85 L263.00,459.69 L265.00,459.55 L267.00,459.44 L269.00,459.33 L271.00,459.24 L273.00,459.16 L275.00,459.08 L277.00,459.01 L279.00,458.95 L281.00,458.89 L283.00,458.85 L285.00,458.81 L287.00,458.78 L289.00,458.77 L291.00,458.77 L293.00,458.78 L295.00,458.80 L297.00,458.84 L299.00,458.89 L301.00,458.95 L303.00,459.04 L305.00,459.14 L307.00,459.25 L309.00,459.39 L311.00,459.54 L313.00,459.72 L315.00,459.91 L317.00,460.13 L319.00,460.36 L321.00,460.62 L323.00,460.91 L325.00,461.21 L327.00,461.54 L329.00,461.90 L331.00,462.28 L333.00,462.69 L335.00,463.13 L337.00,463.59 L339.00,464.08 L341.00,464.59 L343.00,465.12 L345.00,465.67 L347.00,466.23 L349.00,466.81 L351.00,467.40 L353.00,467.99 L355.00,468.60 L357.00,469.20 L359.00,469.81 L361.00,470.42 L363.00,471.03 L365.00,471.63 L367.00,472.23 L369.00,472.81 L371.00,473.39 L373.00,473.95 L375.00,474.49 L377.00,475.02 L379.00,475.53 L381.00,476.01 L383.00,476.47 L385.00,476.90 L387.00,477.30 L389.00,477.67 L391.00,478.01 L393.00,478.31 L395.00,478.57 L397.00,478.79 L399.00,478.97 L401.00,479.11 L403.00,479.21 L405.00,479.27 L407.00,479.30 L409.00,479.29 L411.00,479.26 L413.00,479.21 L415.00,479.14 L417.00,479.05 L419.00,478.94 L421.00,478.82 L423.00,478.70 L425.00,478.56 L427.00,478.43 L429.00,478.30 L431.00,478.17 L433.00,478.05 L435.00,477.94 L437.00,477.84 L439.00,477.76 L441.00,477.69 L443.00,477.65 L445.00,477.64 L447.00,477.65 L449.00,477.70 L451.00,477.78 L453.00,477.90 L455.00,478.06 L457.00,478.26 L459.00,478.51 L461.00,478.81 L463.00,479.17 L465.00,479.58 L467.00,480.05 L469.00,480.57 L471.00,481.16 L473.00,481.80 L475.00,482.49 L477.00,483.25 L479.00,484.05 L481.00,484.92 L483.00,485.84 L485.00,486.81 L487.00,487.84 L489.00,488.92 L491.00,490.06 L493.00,491.25 L495.00,492.49 L497.00,493.78 L499.00,495.13 L501.00,496.53 L503.00,497.98 L505.00,499.48 L507.00,501.04 L509.00,502.64 L511.00,504.29 L513.00,506.00 L515.00,507.75 L517.00,509.54 L519.00,511.37 L521.00,513.23 L523.00,515.13 L525.00,517.04 L527.00,518.97 L529.00,520.92 L531.00,522.87 L533.00,524.83 L535.00,526.79 L537.00,528.74 L539.00,530.68 L541.00,532.60 L543.00,534.51 L545.00,536.38 L547.00,538.23 L549.00,540.05 L551.00,541.82 L553.00,543.55 L555.00,545.23 L557.00,546.85 L559.00,548.42 L561.00,549.92 L563.00,551.37 L565.00,552.76 L567.00,554.09 L569.00,555.36 L571.00,556.58 L573.00,557.74 L575.00,558.86 L577.00,559.92 L579.00,560.93 L581.00,561.90 L583.00,562.81 L585.00,563.68 L587.00,564.51 L589.00,565.29 L591.00,566.03 L593.00,566.73 L595.00,567.39 L597.00,568.02 L599.00,568.60 L601.00,569.15 L603.00,569.66 L605.00,570.14 L607.00,570.59 L609.00,571.01 L611.00,571.40 L613.00,571.76 L615.00,572.09 L617.00,572.40 L619.00,572.68 L621.00,572.94 L623.00,573.17 L625.00,573.39 L627.00,573.58 L629.00,573.76 L631.00,573.92 L633.00,574.06 L634.60,574.17 L634.6,616.4 L87.0,616.4 Z" fill="rgba(49,130,189,0.5)" stroke="none"/>
<path d="M87.0,573.50 L87.0,616.4 L634.6,616.4 L634.6,574.17" fill="none" stroke="rgba(70,90,110,0.18)" stroke-width="1.1"/>
<path d="M87.00,573.50 L89.00,573.20 L91.00,572.86 L93.00,572.48 L95.00,572.07 L97.00,571.61 L99.00,571.12 L101.00,570.58 L103.00,570.01 L105.00,569.39 L107.00,568.74 L109.00,568.04 L111.00,567.31 L113.00,566.53 L115.00,565.71 L117.00,564.84 L119.00,563.94 L121.00,562.99 L123.00,561.99 L125.00,560.95 L127.00,559.87 L129.00,558.74 L131.00,557.57 L133.00,556.34 L135.00,555.08 L137.00,553.76 L139.00,552.40 L141.00,550.99 L143.00,549.54 L145.00,548.03 L147.00,546.48 L149.00,544.87 L151.00,543.22 L153.00,541.52 L155.00,539.76 L157.00,537.96 L159.00,536.11 L161.00,534.21 L163.00,532.27 L165.00,530.29 L167.00,528.27 L169.00,526.22 L171.00,524.15 L173.00,522.05 L175.00,519.93 L177.00,517.79 L179.00,515.64 L181.00,513.47 L183.00,511.30 L185.00,509.12 L187.00,506.95 L189.00,504.78 L191.00,502.61 L193.00,500.45 L195.00,498.31 L197.00,496.18 L199.00,494.08 L201.00,492.00 L203.00,489.95 L205.00,487.93 L207.00,485.96 L209.00,484.04 L211.00,482.17 L213.00,480.36 L215.00,478.62 L217.00,476.95 L219.00,475.35 L221.00,473.84 L223.00,472.42 L225.00,471.09 L227.00,469.86 L229.00,468.72 L231.00,467.66 L233.00,466.69 L235.00,465.81 L237.00,464.99 L239.00,464.25 L241.00,463.58 L243.00,462.98 L245.00,462.44 L247.00,461.95 L249.00,461.52 L251.00,461.14 L253.00,460.81 L255.00,460.51 L257.00,460.26 L259.00,460.04 L261.00,459.85 L263.00,459.69 L265.00,459.55 L267.00,459.44 L269.00,459.33 L271.00,459.24 L273.00,459.16 L275.00,459.08 L277.00,459.01 L279.00,458.95 L281.00,458.89 L283.00,458.85 L285.00,458.81 L287.00,458.78 L289.00,458.77 L291.00,458.77 L293.00,458.78 L295.00,458.80 L297.00,458.84 L299.00,458.89 L301.00,458.95 L303.00,459.04 L305.00,459.14 L307.00,459.25 L309.00,459.39 L311.00,459.54 L313.00,459.72 L315.00,459.91 L317.00,460.13 L319.00,460.36 L321.00,460.62 L323.00,460.91 L325.00,461.21 L327.00,461.54 L329.00,461.90 L331.00,462.28 L333.00,462.69 L335.00,463.13 L337.00,463.59 L339.00,464.08 L341.00,464.59 L343.00,465.12 L345.00,465.67 L347.00,466.23 L349.00,466.81 L351.00,467.40 L353.00,467.99 L355.00,468.60 L357.00,469.20 L359.00,469.81 L361.00,470.42 L363.00,471.03 L365.00,471.63 L367.00,472.23 L369.00,472.81 L371.00,473.39 L373.00,473.95 L375.00,474.49 L377.00,475.02 L379.00,475.53 L381.00,476.01 L383.00,476.47 L385.00,476.90 L387.00,477.30 L389.00,477.67 L391.00,478.01 L393.00,478.31 L395.00,478.57 L397.00,478.79 L399.00,478.97 L401.00,479.11 L403.00,479.21 L405.00,479.27 L407.00,479.30 L409.00,479.29 L411.00,479.26 L413.00,479.21 L415.00,479.14 L417.00,479.05 L419.00,478.94 L421.00,478.82 L423.00,478.70 L425.00,478.56 L427.00,478.43 L429.00,478.30 L431.00,478.17 L433.00,478.05 L435.00,477.94 L437.00,477.84 L439.00,477.76 L441.00,477.69 L443.00,477.65 L445.00,477.64 L447.00,477.65 L449.00,477.70 L451.00,477.78 L453.00,477.90 L455.00,478.06 L457.00,478.26 L459.00,478.51 L461.00,478.81 L463.00,479.17 L465.00,479.58 L467.00,480.05 L469.00,480.57 L471.00,481.16 L473.00,481.80 L475.00,482.49 L477.00,483.25 L479.00,484.05 L481.00,484.92 L483.00,485.84 L485.00,486.81 L487.00,487.84 L489.00,488.92 L491.00,490.06 L493.00,491.25 L495.00,492.49 L497.00,493.78 L499.00,495.13 L501.00,496.53 L503.00,497.98 L505.00,499.48 L507.00,501.04 L509.00,502.64 L511.00,504.29 L513.00,506.00 L515.00,507.75 L517.00,509.54 L519.00,511.37 L521.00,513.23 L523.00,515.13 L525.00,517.04 L527.00,518.97 L529.00,520.92 L531.00,522.87 L533.00,524.83 L535.00,526.79 L537.00,528.74 L539.00,530.68 L541.00,532.60 L543.00,534.51 L545.00,536.38 L547.00,538.23 L549.00,540.05 L551.00,541.82 L553.00,543.55 L555.00,545.23 L557.00,546.85 L559.00,548.42 L561.00,549.92 L563.00,551.37 L565.00,552.76 L567.00,554.09 L569.00,555.36 L571.00,556.58 L573.00,557.74 L575.00,558.86 L577.00,559.92 L579.00,560.93 L581.00,561.90 L583.00,562.81 L585.00,563.68 L587.00,564.51 L589.00,565.29 L591.00,566.03 L593.00,566.73 L595.00,567.39 L597.00,568.02 L599.00,568.60 L601.00,569.15 L603.00,569.66 L605.00,570.14 L607.00,570.59 L609.00,571.01 L611.00,571.40 L613.00,571.76 L615.00,572.09 L617.00,572.40 L619.00,572.68 L621.00,572.94 L623.00,573.17 L625.00,573.39 L627.00,573.58 L629.00,573.76 L631.00,573.92 L633.00,574.06 L634.60,574.17" fill="none" stroke="#123e6e" stroke-width="2.2" stroke-linejoin="round"/>
</g>
<rect x="118.8" y="331.50" width="25.7" height="12.4" fill="rgba(239,243,255,0.5)"/>
<text x="164.5" y="343.90" font-size="16.5">&gt;15</text>
<rect x="118.8" y="351.20" width="25.7" height="12.4" fill="rgba(189,215,231,0.47)"/>
<text x="164.5" y="363.60" font-size="16.5">3–15</text>
<rect x="118.8" y="370.90" width="25.7" height="12.4" fill="rgba(107,174,214,0.47)"/>
<text x="164.5" y="383.30" font-size="16.5">1–3</text>
<rect x="118.8" y="390.60" width="25.7" height="12.4" fill="rgba(49,130,189,0.5)"/>
<text x="164.5" y="403.00" font-size="16.5">&lt;1</text>
<rect x="65.6" y="261.2" width="590.9" height="368.59999999999997" fill="none" stroke="#222" stroke-width="1.5"/>
<line x1="57.1" y1="616.40" x2="65.6" y2="616.40" stroke="#222" stroke-width="1.5"/>
<text x="53.4" y="623.00" font-size="16.8" text-anchor="end">0.0</text>
<line x1="57.1" y1="548.18" x2="65.6" y2="548.18" stroke="#222" stroke-width="1.5"/>
<text x="53.4" y="554.78" font-size="16.8" text-anchor="end">0.2</text>
<line x1="57.1" y1="479.96" x2="65.6" y2="479.96" stroke="#222" stroke-width="1.5"/>
<text x="53.4" y="486.56" font-size="16.8" text-anchor="end">0.4</text>
<line x1="57.1" y1="411.74" x2="65.6" y2="411.74" stroke="#222" stroke-width="1.5"/>
<text x="53.4" y="418.34" font-size="16.8" text-anchor="end">0.6</text>
<line x1="57.1" y1="343.52" x2="65.6" y2="343.52" stroke="#222" stroke-width="1.5"/>
<text x="53.4" y="350.12" font-size="16.8" text-anchor="end">0.8</text>
<line x1="57.1" y1="275.30" x2="65.6" y2="275.30" stroke="#222" stroke-width="1.5"/>
<text x="53.4" y="281.90" font-size="16.8" text-anchor="end">1.0</text>
<line x1="87.60" y1="629.8" x2="87.60" y2="638.2" stroke="#222" stroke-width="1.5"/>
<text x="87.60" y="655.3" font-size="16.8" text-anchor="middle">Sep 01</text>
<line x1="269.82" y1="629.8" x2="269.82" y2="638.2" stroke="#222" stroke-width="1.5"/>
<text x="269.82" y="655.3" font-size="16.8" text-anchor="middle">Oct 01</text>
<line x1="458.11" y1="629.8" x2="458.11" y2="638.2" stroke="#222" stroke-width="1.5"/>
<text x="458.11" y="655.3" font-size="16.8" text-anchor="middle">Nov 01</text>
<line x1="640.33" y1="629.8" x2="640.33" y2="638.2" stroke="#222" stroke-width="1.5"/>
<text x="640.33" y="655.3" font-size="16.8" text-anchor="middle">Dec 01</text>
<text class="t" x="362.8" y="677.3" font-size="22.9" text-anchor="middle">Date</text>
<text class="t" transform="translate(19.2,446.5) rotate(-90)" x="0" y="0" font-size="22.8" text-anchor="middle">Daily predation rate</text>
<text class="t" x="81.9" y="290.8" font-size="30">B</text>
</svg>
</body></html>
